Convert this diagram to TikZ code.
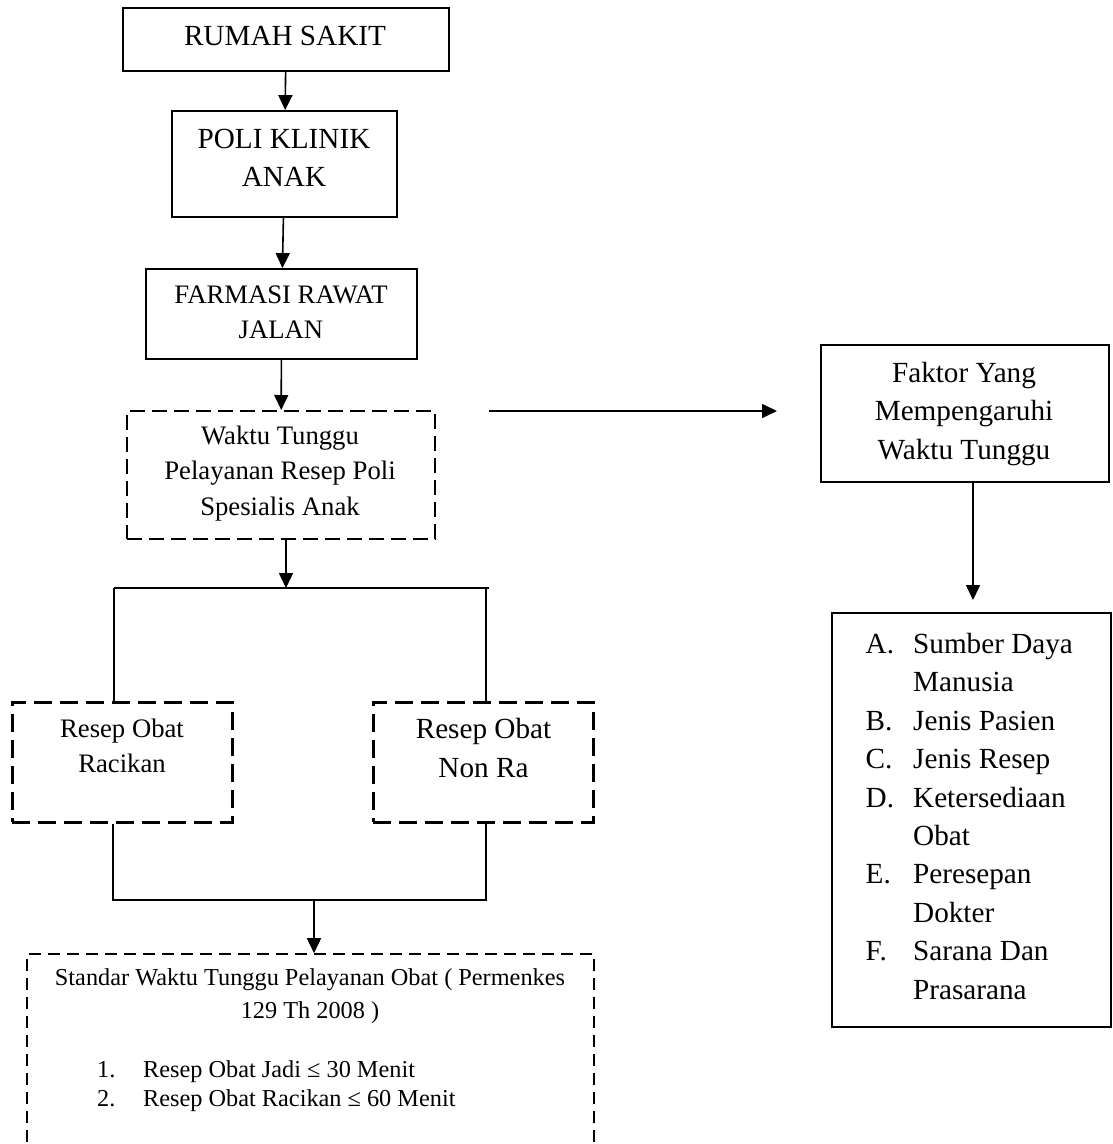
\documentclass[tikz,border=0pt]{standalone}
\usepackage{fontspec}
\setmainfont{Liberation Serif}
\usetikzlibrary{arrows.meta}

\begin{document}
\begin{tikzpicture}[
x=1pt, y=-1pt,
big/.style={font=\fontsize{29.2}{38.4}\selectfont},
mid/.style={font=\fontsize{26.7}{35.3}\selectfont},
small/.style={font=\fontsize{24.3}{32.6}\selectfont},
smalllist/.style={font=\fontsize{24.3}{29.4}\selectfont},
txt/.style={anchor=base, align=center, inner sep=0pt},
lst/.style={anchor=base west, inner sep=0pt},
box/.style={draw, line width=1.8pt, inner sep=0pt},
dbox/.style={draw, line width=2pt, dash pattern=on 15pt off 7pt, inner sep=0pt},
racbox/.style={draw, line width=3pt, dash pattern=on 18pt off 8pt, inner sep=0pt},
sbox/.style={draw, line width=1.6pt, dash pattern=on 12pt off 7pt, inner sep=0pt},
line/.style={line width=1.6pt},
arrow/.style={-{Triangle[length=15pt,width=14pt]}, line width=1.6pt} ]

\useasboundingbox (0,0) rectangle (1113,1144);
\clip (0,0) rectangle (1113,1144);

\node[box, minimum width=326pt, minimum height=63pt] (rumah) at (286,39.5) {};

\node[box, minimum width=225pt, minimum height=106pt] (poli) at (284.5,164) {};

\node[box, minimum width=271pt, minimum height=90pt] (farmasi) at (281.5,314) {};

\node[dbox, minimum width=308pt, minimum height=128pt] (waktu) at (281,475) {};

\node[racbox, minimum width=220pt, minimum height=120pt] (racik) at (122,762) {};

\node[racbox, minimum width=220pt, minimum height=120pt] (nonracik) at (483,762) {};

\node[sbox, minimum width=567pt, minimum height=210pt] (standar) at (310.5,1059) {};

\node[box, minimum width=288pt, minimum height=137pt] (faktor) at (965,413.5) {};

\node[box, line width=2.8pt, minimum width=279pt, minimum height=414pt] (daftar) at (971.5,820) {};

\node[txt, big] (rumahtxt) at (285,45) {RUMAH SAKIT};

\node[txt, big] (politxt) at (284,186.7) {POLI KLINIK\\ANAK};

\node[txt, mid] (farmasitxt) at (281,338.5) {FARMASI RAWAT\\JALAN};

\node[txt, mid] (waktutxt) at (280,515) {Waktu Tunggu\\Pelayanan Resep Poli\\Spesialis Anak};

\node[txt, mid] (raciktxt) at (122,772.3) {Resep Obat\\Racikan};

\node[txt, big] (nonraciktxt) at (483.5,777.3) {Resep Obat\\Non Ra};

\node[txt, small] (standartxt) at (310,1018.3) {Standar Waktu Tunggu Pelayanan Obat ( Permenkes\\129 Th 2008 )};

\node[lst, smalllist] (standarlist) at (97,1077.3) {\begin{tabular}[t]{@{}p{46pt}@{}l@{}}1.&Resep Obat Jadi ≤ 30 Menit\\2.&Resep Obat Racikan ≤ 60 Menit\end{tabular}};

\node[txt, big] (faktortxt) at (964,459.3) {Faktor Yang\\Mempengaruhi\\Waktu Tunggu};

\node[lst, big] (daftartxt) at (865.5,653.5) {\begin{tabular}[t]{@{}p{47.5pt}@{}l@{}}A.&Sumber Daya\\&Manusia\\B.&Jenis Pasien\\C.&Jenis Resep\\D.&Ketersediaan\\&Obat\\E.&Peresepan\\&Dokter\\F.&Sarana Dan\\&Prasarana\end{tabular}};

\coordinate (pecah) at (286,588);
\coordinate (kiriatas) at (114,588);
\coordinate (kananatas) at (486,588);
\coordinate (kiribawah) at (113,900);
\coordinate (kananbawah) at (486,900);
\coordinate (gabung) at (314,900);
\coordinate (panahawal) at (489,411);
\coordinate (panahakhir) at (777,411);
\coordinate (faktorujung) at (973,600);

\draw[arrow] (rumah) -- (poli);

\draw[arrow] (poli) -- (farmasi);

\draw[arrow] (farmasi) -- (waktu);

\draw[arrow] (waktu.south -| pecah) -- (pecah);

\draw[line] (kiriatas) -- ([xshift=3pt]kananatas);

\draw[line] (kiriatas) -- (kiriatas |- racik.north);

\draw[line] (kananatas) -- (kananatas |- nonracik.north);

\draw[line] (racik.south -| kiribawah) -- (kiribawah) -- (kananbawah) -- (nonracik.south -| kananbawah);

\draw[arrow] (gabung) -- (gabung |- standar.north);

\draw[arrow] (panahawal) -- (panahakhir);

\draw[arrow] (faktor.south -| faktorujung) -- (faktorujung);

\end{tikzpicture}
\end{document}
